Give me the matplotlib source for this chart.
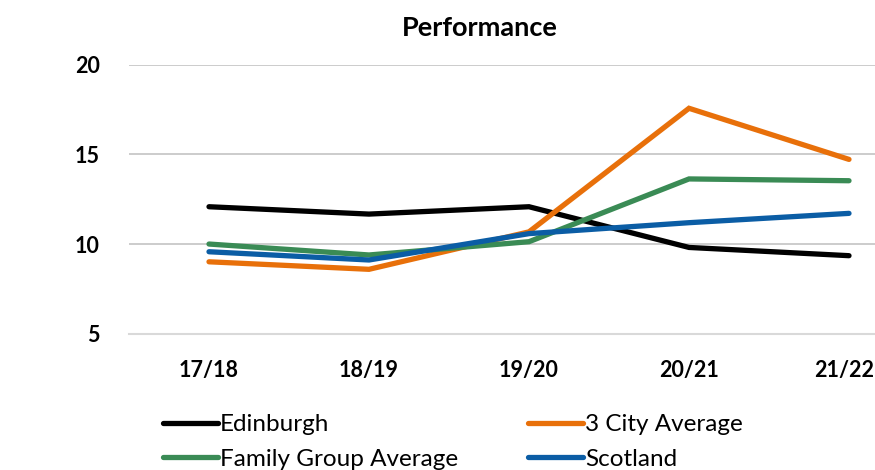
import matplotlib
matplotlib.use('Agg')
import matplotlib.pyplot as plt
from matplotlib.transforms import ScaledTranslation

# ─── Data ────────────────────────────────────────────────────────────────────
years       = ['17/18', '18/19', '19/20', '20/21', '21/22']
edinburgh   = [12.08, 11.67, 12.08, 9.81, 9.35]
city3_avg   = [9.01, 8.59, 10.68, 17.57, 14.72]
family_avg  = [10.00, 9.39, 10.13, 13.63, 13.53]
scotland    = [9.57, 9.11, 10.58, 11.19, 11.71]
y_ticks     = [5, 10, 15, 20]

series = [
    ('Edinburgh', edinburgh, '#000000'),
    ('3 City Average', city3_avg, '#E8700A'),
    ('Family Group Average', family_avg, '#3A8B55'),
    ('Scotland', scotland, '#0B5DA5'),
]

plt.rcParams['font.family'] = ['Lato', 'DejaVu Sans']

W, H = 875, 470
fig = plt.figure(figsize=(W / 100, H / 100), dpi=100)
# plot area runs past the right edge, as in the cropped reference
ax = fig.add_axes([129 / W, 1 - 333.7 / H, 800 / W, (333.7 - 64.7) / H])

x = list(range(len(years)))
lines = {}
for name, vals, col in series:
    ln, = ax.plot(x, vals, color=col, lw=3.8, solid_capstyle='round',
                  solid_joinstyle='miter', label=name, zorder=3)
    lines[name] = ln

ax.set_xlim(-0.5, len(years) - 0.5)
ax.set_ylim(5, 20)
ax.set_yticks(y_ticks)
ax.set_yticklabels([str(t) for t in y_ticks], fontsize=15.5, fontweight='bold')
ax.set_xticks(x)
ax.set_xticklabels(years, fontsize=15.5, fontweight='bold')
ax.tick_params(length=0)
ax.tick_params(axis='x', pad=19)
ax.tick_params(axis='y', pad=21)

# last label is nudged left so it stays inside the picture (as in the reference)
last = ax.get_xticklabels()[-1]
last.set_transform(last.get_transform() + ScaledTranslation(-0.05, 0, fig.dpi_scale_trans))

for t in y_ticks[1:]:
    ax.axhline(t, color='#c4c4c4', lw=1.2, zorder=1)
for s in ax.spines.values():
    s.set_visible(False)
ax.axhline(5, color='#d9d9d9', lw=1.5, zorder=1, clip_on=False)

fig.text(480 / W, 1 - 28 / H, 'Performance', ha='center', va='center',
         fontsize=19.5, fontweight='bold')

order = ['Edinburgh', 'Family Group Average', '3 City Average', 'Scotland']
fig.legend([lines[n] for n in order], order, ncol=2, frameon=False,
           loc='upper left', bbox_to_anchor=(163 / W, 1 - 414 / H),
           borderaxespad=0, borderpad=0, fontsize=17.5, handlelength=2.25,
           handletextpad=0.08, labelspacing=0.57, columnspacing=2.9)

fig.savefig('out.png', dpi=100)
